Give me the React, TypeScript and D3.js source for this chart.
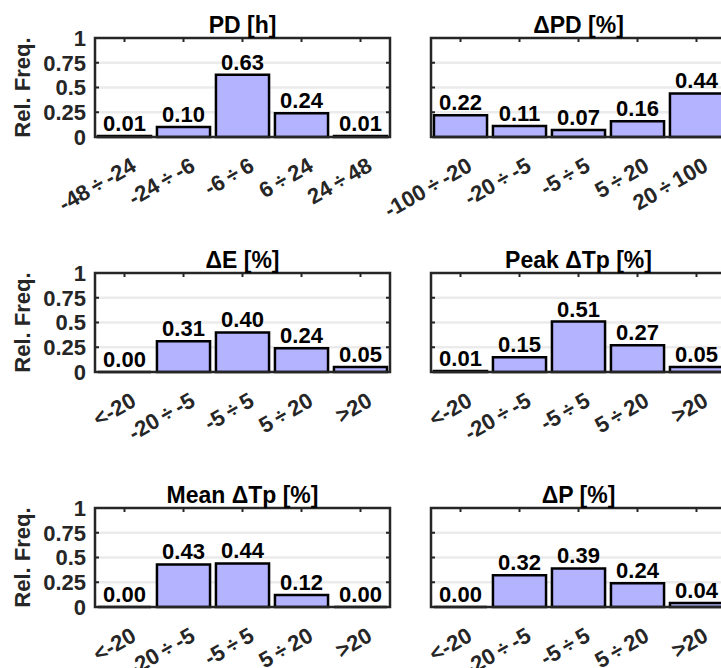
import { useEffect, useRef } from "react";
import * as d3 from "d3";

// categories
const catsPD = ["-48÷-24", "-24÷-6", "-6÷6", "6÷24", "24÷48"];
const catsDPD = ["-100÷-20", "-20÷-5", "-5÷5", "5÷20", "20÷100"];
const catsPct = ["<-20", "-20÷-5", "-5÷5", "5÷20", ">20"];

// relative frequencies
const valsPD = [0.01, 0.1, 0.63, 0.24, 0.01];
const valsDPD = [0.22, 0.11, 0.07, 0.16, 0.44];
const valsDE = [0.0, 0.31, 0.4, 0.24, 0.05];
const valsPeakTp = [0.01, 0.15, 0.51, 0.27, 0.05];
const valsMeanTp = [0.0, 0.43, 0.44, 0.12, 0.0];
const valsDP = [0.0, 0.32, 0.39, 0.24, 0.04];

const titles = ["PD [h]", "ΔPD [%]", "ΔE [%]", "Peak ΔTp [%]", "Mean ΔTp [%]", "ΔP [%]"];
const yTicks = [0, 0.25, 0.5, 0.75, 1];
const yTickLabels = ["0", "0.25", "0.5", "0.75", "1"];

const panels = [
  { title: titles[0], cats: catsPD, vals: valsPD },
  { title: titles[1], cats: catsDPD, vals: valsDPD },
  { title: titles[2], cats: catsPct, vals: valsDE },
  { title: titles[3], cats: catsPct, vals: valsPeakTp },
  { title: titles[4], cats: catsPct, vals: valsMeanTp },
  { title: titles[5], cats: catsPct, vals: valsDP },
];

export default function App() {
  const ref = useRef<SVGSVGElement>(null);

  useEffect(() => {
    const width = 721, height = 668;
    const lefts = [95, 431];
    const tops = [38, 273, 508];
    const boxW = 295, boxH = 99;
    const font = "'Liberation Sans', Arial, Helvetica, sans-serif";
    const axisColor = "#262626";

    const svg = d3.select(ref.current);
    svg.selectAll("*").remove();
    svg.attr("width", width).attr("height", height).attr("viewBox", [0, 0, width, height].join(" "));
    svg.append("rect").attr("width", width).attr("height", height).attr("fill", "white");

    panels.forEach((p, i) => {
      const x0 = lefts[i % 2];
      const y0 = tops[Math.floor(i / 2)];

      const x = d3.scaleBand().domain(p.cats).range([x0, x0 + boxW]).paddingInner(0.1).paddingOuter(0.05);
      const y = d3.scaleLinear().domain([0, 1]).range([y0 + boxH, y0]);

      const g = svg.append("g").attr("font-family", font).attr("font-weight", "bold");

      // grid
      g.append("g")
        .selectAll("line")
        .data([0.25, 0.5, 0.75])
        .join("line")
        .attr("x1", x0)
        .attr("x2", x0 + boxW)
        .attr("y1", d => y(d))
        .attr("y2", d => y(d))
        .attr("stroke", "#ebebeb")
        .attr("stroke-width", 2.5);

      // bars
      const data = p.cats.map((c, j) => ({ c, v: p.vals[j] }));
      g.append("g")
        .selectAll("path")
        .data(data)
        .join("path")
        .attr("d", d => {
          const bx = x(d.c)!, bw = x.bandwidth();
          return `M${bx},${y(0)}V${y(d.v)}H${bx + bw}V${y(0)}Z`;
        })
        .attr("fill", "#b3b3ff")
        .attr("stroke", "black")
        .attr("stroke-width", 2.5)
        .attr("stroke-linejoin", "miter");

      // value labels
      g.append("g")
        .attr("text-anchor", "middle")
        .attr("font-size", 22)
        .selectAll("text")
        .data(data)
        .join("text")
        .attr("x", d => x(d.c)! + x.bandwidth() / 2)
        .attr("y", d => y(d.v) - 5)
        .text(d => d.v.toFixed(2));

      // ticks (inside, mirrored)
      const centers = p.cats.map(c => x(c)! + x.bandwidth() / 2);
      const tk = g.append("g").attr("stroke", axisColor).attr("stroke-width", 2);
      centers.forEach(cx => {
        tk.append("line").attr("x1", cx).attr("x2", cx).attr("y1", y0).attr("y2", y0 + 4);
      });
      yTicks.slice(1, 4).forEach(t => {
        tk.append("line").attr("x1", x0).attr("x2", x0 + 4).attr("y1", y(t)).attr("y2", y(t));
        tk.append("line").attr("x1", x0 + boxW).attr("x2", x0 + boxW - 4).attr("y1", y(t)).attr("y2", y(t));
      });

      // box
      g.append("rect")
        .attr("x", x0)
        .attr("y", y0)
        .attr("width", boxW)
        .attr("height", boxH)
        .attr("fill", "none")
        .attr("stroke", axisColor)
        .attr("stroke-width", 2.5);

      // x tick labels, rotated
      g.append("g")
        .attr("text-anchor", "end")
        .attr("font-size", 22)
        .attr("fill", axisColor)
        .selectAll("text")
        .data(p.cats)
        .join("text")
        .attr("transform", (c, k) => `translate(${centers[k] + 13},${y0 + boxH + 33}) rotate(-30)`)
        .text(c => c.replace("÷", "\u2009÷\u2009"));

      // title
      g.append("text")
        .attr("x", x0 + boxW / 2)
        .attr("y", y0 - 5)
        .attr("text-anchor", "middle")
        .attr("font-size", 23)
        .text(p.title);

      // left column: y tick labels and y label
      if (i % 2 === 0) {
        g.append("g")
          .attr("text-anchor", "end")
          .attr("font-size", 22)
          .attr("fill", axisColor)
          .selectAll("text")
          .data(yTicks)
          .join("text")
          .attr("x", x0 - 9)
          .attr("y", d => y(d))
          .attr("dy", "0.36em")
          .text((d, k) => yTickLabels[k]);

        g.append("text")
          .attr("transform", `translate(30,${y0 + boxH / 2}) rotate(-90)`)
          .attr("text-anchor", "middle")
          .attr("font-size", 22)
          .attr("fill", axisColor)
          .text("Rel. Freq.");
      }
    });
  }, []);

  return (
    <div style={{ position: "absolute", left: 0, top: 0 }}>
      <svg ref={ref}></svg>
    </div>
  );
}
